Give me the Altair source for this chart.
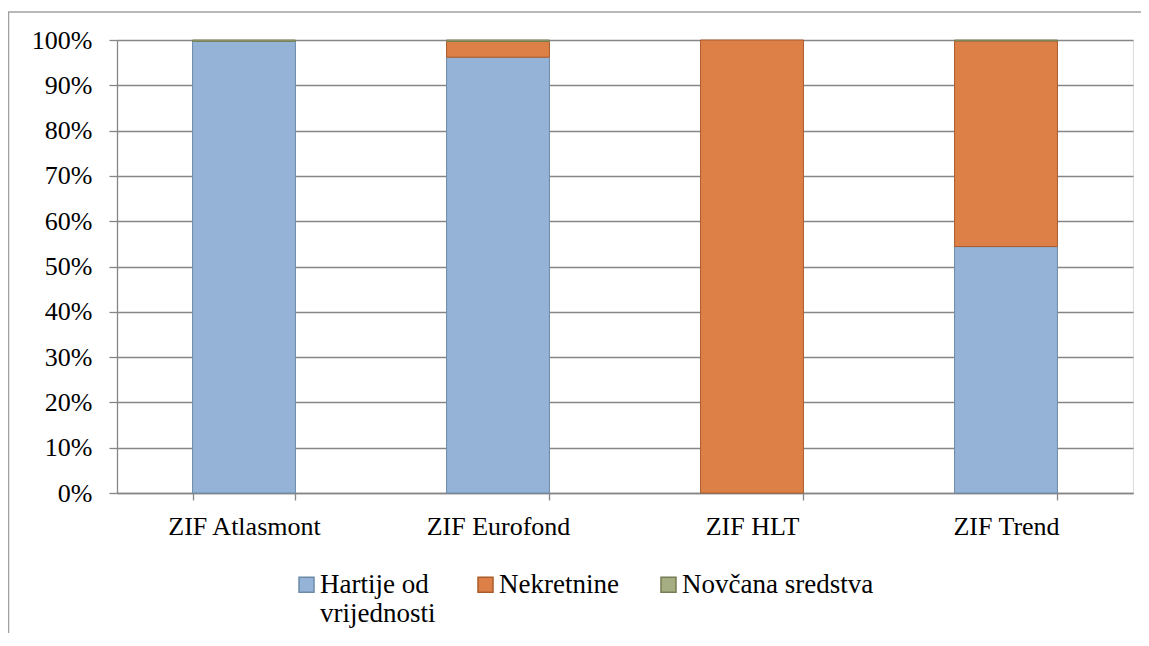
import altair as alt
import pandas as pd

funds = ["ZIF Atlasmont", "ZIF Eurofond", "ZIF HLT", "ZIF Trend"]
series = ["Hartije od vrijednosti", "Nekretnine", "Novčana sredstva"]
hartije = [99.7, 96.2, 0.0, 54.4]
nekretnine = [0.0, 3.5, 100.0, 45.4]
novcana = [0.3, 0.3, 0.0, 0.2]
fills = ["#95b3d7", "#dd8047", "#a5ae82"]
strokes = ["#6c8aa8", "#a95b2b", "#767d52"]
y_ticks = [0, 0.1, 0.2, 0.3, 0.4, 0.5, 0.6, 0.7, 0.8, 0.9, 1.0]

rows = []
for i, f in enumerate(funds):
    for j, (s, vals) in enumerate(zip(series, [hartije, nekretnine, novcana])):
        rows.append({"fund": f, "series": s, "idx": j, "value": vals[i] / 100.0})
df = pd.DataFrame(rows)

FONT = "Liberation Serif"
W, H = 1016, 453
GRID = "#868686"

bars = alt.Chart(df).transform_filter("datum.value > 0").mark_bar(strokeWidth=1).encode(
    x=alt.X("fund:N", sort=funds, title=None,
            scale=alt.Scale(paddingInner=0.595, paddingOuter=0.2975),
            axis=alt.Axis(labelAngle=0, labelFont=FONT, labelFontSize=26, labelColor="#000000",
                          tickBand="extent", tickSize=7, tickColor=GRID, domainColor=GRID,
                          domainWidth=1.3, tickWidth=1.3, labelPadding=13, grid=False)),
    y=alt.Y("value:Q", stack="zero", title=None,
            scale=alt.Scale(domain=[0, 1], nice=False),
            axis=alt.Axis(values=y_ticks, format=".0%", labelFont=FONT, labelFontSize=26,
                          labelColor="#000000", tickSize=8, tickColor=GRID, domainColor=GRID,
                          domainWidth=1.3, tickWidth=1.3, gridColor=GRID, gridWidth=1.3,
                          labelPadding=17, grid=True)),
    color=alt.Color("series:N", sort=series,
                    scale=alt.Scale(domain=series, range=fills),
                    legend=alt.Legend(title=None, orient="none", legendX=176, legendY=531,
                                      direction="horizontal", symbolType="square",
                                      symbolSize=225, symbolStrokeWidth=1.5,
                                      labelFont=FONT, labelFontSize=27, labelColor="#000000",
                                      labelOffset=0, columnPadding=36, labelLimit=400,
                                      labelExpr="datum.label == 'Hartije od vrijednosti' ? ['Hartije od', 'vrijednosti'] : [datum.label, '']")),
    stroke=alt.Stroke("series:N", sort=series,
                      scale=alt.Scale(domain=series, range=strokes)),
    order=alt.Order("idx:Q", sort="ascending"),
)

border_df = pd.DataFrame({"k": [0]})
top_border = alt.Chart(border_df).mark_rule(color="#a0a0a0", strokeWidth=1.5).encode(
    x=alt.value(-109), x2=alt.value(W + 8), y=alt.value(-28))
left_border = alt.Chart(border_df).mark_rule(color="#a0a0a0", strokeWidth=1.5).encode(
    x=alt.value(-108.5), y=alt.value(-28), y2=alt.value(H + 140))

chart = alt.layer(bars, top_border, left_border).properties(
    width=W, height=H,
    autosize=alt.AutoSizeParams(type="none"),
    padding={"left": 109, "top": 32, "right": 8, "bottom": 140},
).configure_view(fill="#e6e6e6", stroke="transparent").configure(background="#ffffff")

chart.save("out.html", embed_options={"renderer": "svg", "actions": False})
